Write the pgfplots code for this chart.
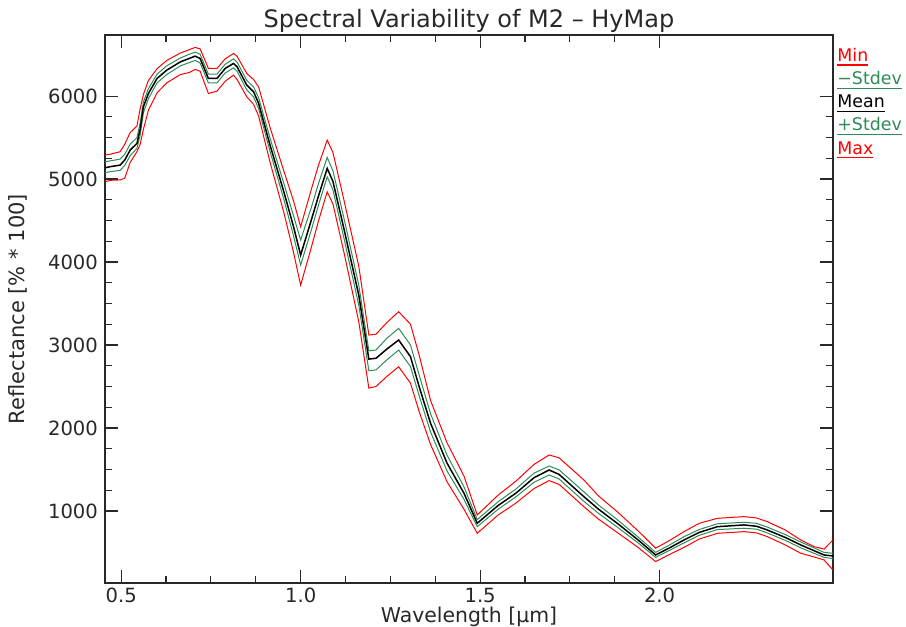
\documentclass[border=0pt]{standalone}
\usepackage{fontspec}
\setmainfont{DejaVu Sans}
\usepackage{pgfplots}
\usepackage{pgfplotstable}
\pgfplotsset{compat=1.18}
\definecolor{sgreen}{RGB}{46,139,87}
\definecolor{axgray}{RGB}{40,40,40}
\newcommand{\ul}[1]{\setbox0=\hbox{#1}\rlap{\copy0}\raisebox{-2pt}{\rule{\wd0}{0.55pt}}}
\begin{document}
\begin{tikzpicture}
\pgfplotstableread{
x min ms mean ps max
0.455 4967 5076 5136 5208 5289
0.470 4985 5090 5150 5220 5300
0.497 4990 5105 5168 5240 5330
0.510 5010 5165 5230 5300 5420
0.525 5200 5280 5349 5420 5560
0.544 5330 5370 5430 5500 5640
0.553 5420 5530 5600 5680 5850
0.562 5600 5800 5871 5930 6020
0.576 5830 5970 6032 6090 6190
0.600 6040 6160 6213 6265 6330
0.627 6160 6260 6313 6365 6430
0.665 6260 6365 6413 6460 6520
0.690 6285 6405 6455 6505 6560
0.706 6322 6430 6482 6530 6587
0.720 6300 6400 6454 6505 6570
0.743 6032 6160 6213 6265 6334
0.767 6060 6160 6213 6265 6334
0.790 6180 6280 6334 6385 6450
0.813 6253 6340 6394 6450 6514
0.823 6200 6300 6353 6410 6480
0.850 5992 6075 6133 6190 6273
0.869 5900 5990 6052 6110 6200
0.883 5760 5850 5912 5980 6110
0.915 5200 5330 5406 5490 5620
0.953 4600 4760 4850 4950 5100
0.980 4120 4320 4430 4560 4740
1.000 3722 3964 4084 4265 4425
1.030 4180 4390 4510 4660 4880
1.050 4500 4690 4800 4950 5170
1.074 4847 5028 5129 5261 5470
1.090 4700 4870 4972 5100 5320
1.120 4130 4300 4413 4540 4760
1.162 3280 3480 3600 3720 3950
1.190 2480 2690 2830 2930 3120
1.210 2500 2700 2840 2940 3130
1.240 2620 2820 2950 3080 3270
1.273 2738 2939 3060 3201 3401
1.306 2540 2740 2859 3000 3250
1.330 2200 2390 2500 2640 2880
1.362 1800 1950 2056 2170 2330
1.408 1350 1480 1574 1670 1820
1.455 1020 1140 1213 1290 1420
1.492 730 810 851 895 951
1.550 950 1020 1065 1110 1190
1.600 1095 1170 1215 1265 1360
1.650 1270 1345 1400 1455 1560
1.692 1365 1433 1493 1541 1674
1.720 1320 1385 1440 1495 1640
1.789 1051 1115 1172 1230 1373
1.830 900 970 1020 1070 1180
1.882 740 805 851 895 990
1.940 560 615 650 685 760
1.989 389 440 469 500 550
2.030 480 530 560 595 650
2.068 560 615 650 690 750
2.110 660 705 740 775 850
2.161 730 775 810 845 911
2.235 750 791 831 863 931
2.270 735 780 815 850 915
2.300 690 735 770 805 871
2.350 590 645 680 715 770
2.393 490 555 590 625 650
2.430 445 490 521 555 570
2.458 409 440 469 500 540
2.483 288 425 457 490 650
}\data
\begin{axis}[
  at={(0,0)}, anchor=south west,
  scale only axis, width=364pt, height=274pt,
  xmin=0.455, xmax=2.483, ymin=131, ymax=6737,
  clip mode=individual,
  xtick={0.5,1,1.5,2}, xticklabels={0.5,1.0,1.5,2.0},
  ytick={1000,2000,3000,4000,5000,6000},
  minor x tick num=3, minor y tick num=3,
  tick align=inside,
  major tick length=6.5pt, minor tick length=3.5pt,
  axis line style={axgray, line width=0.75pt},
  every tick/.style={axgray, line width=0.6pt},
  /pgf/number format/assume math mode=true,
  /pgf/number format/set thousands separator={},
  ticklabel style={font=\fontsize{9.8}{12}\selectfont, text=axgray},
  xticklabel style={anchor=base, yshift=-10pt},
  xlabel={Wavelength [µm]},
  ylabel={Reflectance [\% * 100]},
  xlabel style={at={(axis description cs:0.5,-0.0715)}, anchor=base, font=\fontsize{10.2}{12}\selectfont, text=axgray},
  ylabel style={at={(axis description cs:-0.1099,0.5)}, anchor=base, font=\fontsize{10.5}{12}\selectfont, text=axgray},
  title={Spectral Variability of M2 – HyMap},
  title style={at={(axis description cs:0.5,1.0128)}, anchor=base, yshift=-6pt, font=\fontsize{12}{14}\selectfont, text=axgray},
]
\addplot[red, line width=0.5pt] table[x=x, y=min] {\data};
\addplot[red, line width=0.5pt] table[x=x, y=max] {\data};
\addplot[sgreen, line width=0.5pt] table[x=x, y=ms] {\data};
\addplot[sgreen, line width=0.5pt] table[x=x, y=ps] {\data};
\addplot[black, line width=0.75pt] table[x=x, y=mean] {\data};
\node[anchor=base west, inner sep=0pt, text=red, font=\fontsize{8.7}{10}\selectfont] at (axis description cs:1.0055,0.9515) {\ul{Min}};
\node[anchor=base west, inner sep=0pt, text=sgreen, font=\fontsize{8.7}{10}\selectfont] at (axis description cs:1.0055,0.9093) {\ul{−Stdev}};
\node[anchor=base west, inner sep=0pt, text=black, font=\fontsize{8.7}{10}\selectfont] at (axis description cs:1.0055,0.8672) {\ul{Mean}};
\node[anchor=base west, inner sep=0pt, text=sgreen, font=\fontsize{8.7}{10}\selectfont] at (axis description cs:1.0055,0.8250) {\ul{+Stdev}};
\node[anchor=base west, inner sep=0pt, text=red, font=\fontsize{8.7}{10}\selectfont] at (axis description cs:1.0055,0.7828) {\ul{Max}};
\end{axis}
\pgfresetboundingbox
\path[use as bounding box] (-52.5pt,-22pt) rectangle (400.5pt,291.5pt);
\end{tikzpicture}
\end{document}
